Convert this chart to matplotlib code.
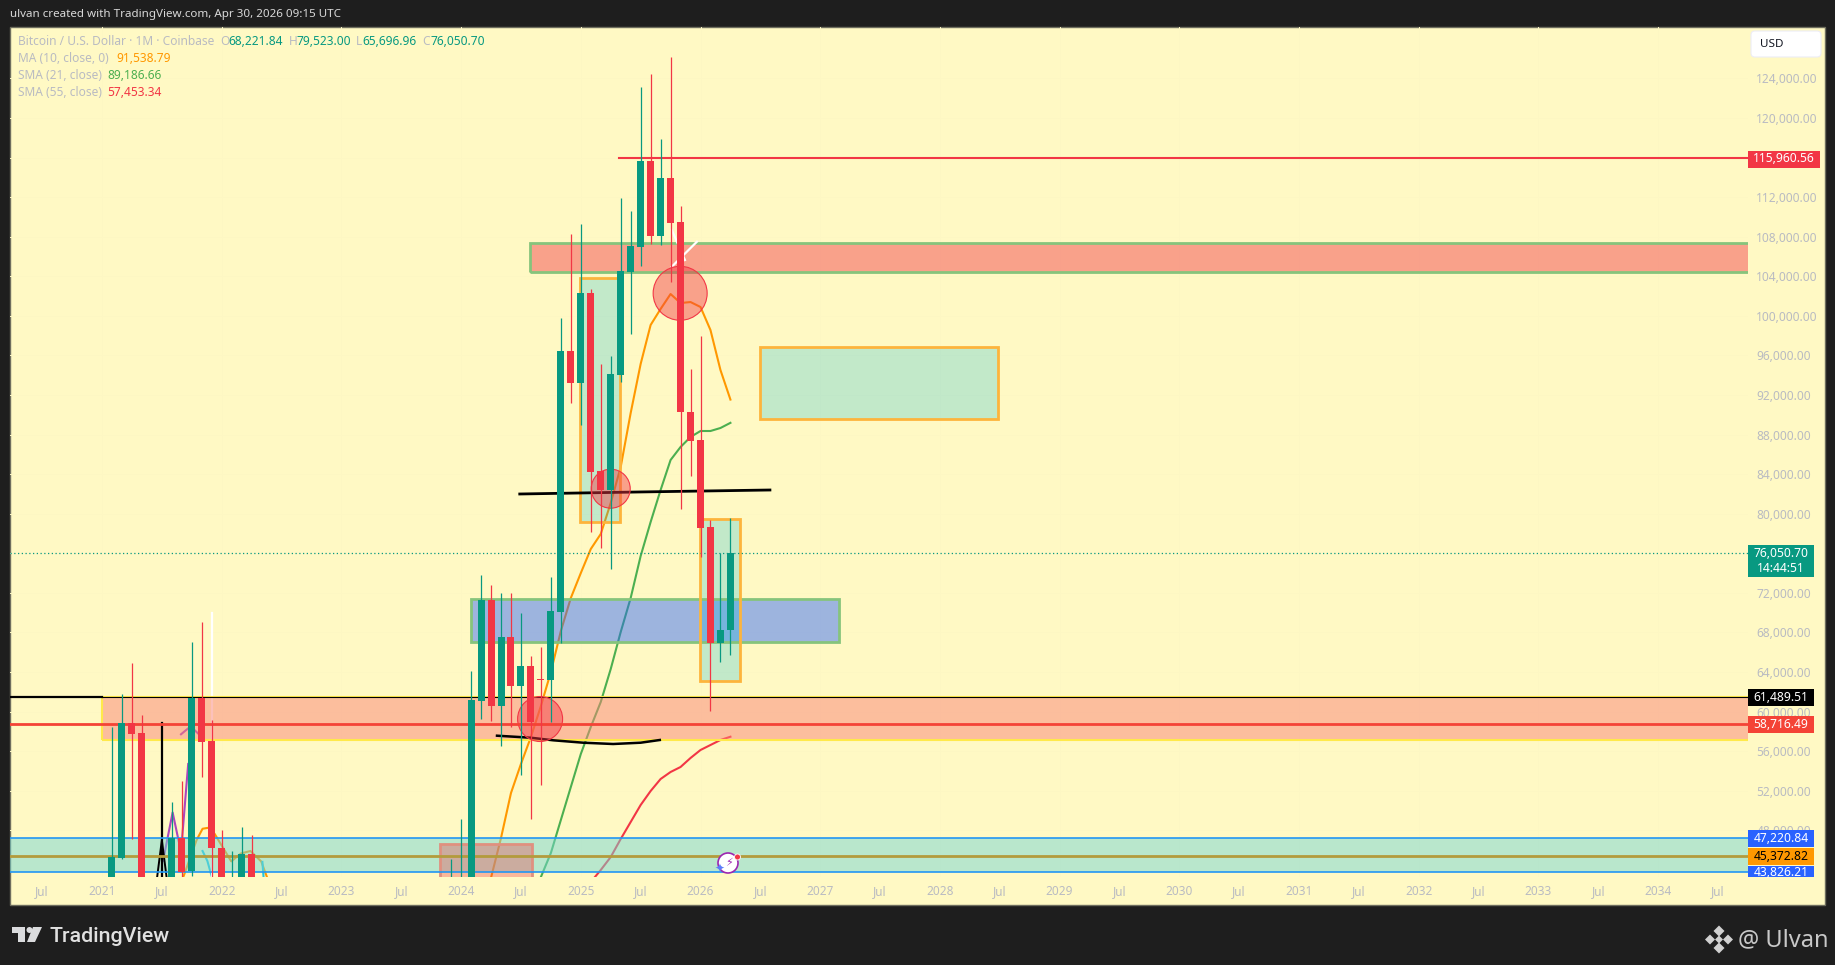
#imports
import matplotlib
matplotlib.use('Agg')
import matplotlib.pyplot as plt
from matplotlib.patches import Rectangle, Polygon, Circle, FancyBboxPatch

# candles, month by month (the months left out sit under the visible range)
months = ['2021-02', '2021-03', '2021-04', '2021-05', '2021-06', '2021-07', '2021-08', '2021-09',
          '2021-10', '2021-11', '2021-12', '2022-01', '2022-02', '2022-03', '2022-04',
          '2023-12', '2024-01', '2024-02', '2024-03', '2024-04', '2024-05', '2024-06', '2024-07',
          '2024-08', '2024-09', '2024-10', '2024-11', '2024-12', '2025-01', '2025-02', '2025-03',
          '2025-04', '2025-05', '2025-06', '2025-07', '2025-08', '2025-09', '2025-10', '2025-11',
          '2025-12', '2026-01', '2026-02', '2026-03', '2026-04']
opens = [40000, 45223, 58811, 57830, 37000, 35500, 41500, 47245, 43878, 61399, 57021, 46234, 38000, 42500, 45597,
         37000, 42200, 42600, 61096, 71276, 60560, 67536, 62582, 64604, 63289, 63188, 70093, 96450, 93245,
         102344, 84318, 82397, 94054, 104467, 106995, 115659, 108107, 113941, 109492, 90283, 87452, 78657,
         66959, 68221.84]
highs = [58437, 61773, 64907, 59650, 41000, 42000, 50884, 52977, 67030, 69052, 59144, 48023, 45900, 48327, 47518,
         45091, 49135, 64098, 73804, 72793, 71984, 71984, 69962, 65615, 66525, 73602, 99787, 108279, 109290,
         102718, 95136, 95945, 111919, 110574, 123141, 124455, 117883, 126174, 111110, 94630, 97967, 79364,
         76028, 79523.00]
lows = [38000, 45091, 47144, 32000, 30000, 29000, 39000, 42500, 43373, 53412, 42000, 35000, 37000, 39000, 37000,
        36000, 38500, 42000, 59276, 59073, 56546, 58467, 53614, 49166, 52603, 58972, 66929, 91223, 88969,
        78151, 76534, 74410, 93346, 98199, 105044, 107268, 107167, 103456, 80476, 83813, 75654, 60085,
        65038, 65696.96]
closes = [45294, 58811, 57729, 37000, 35500, 41500, 47245, 43807, 61399, 56920, 46234, 38000, 42500, 45597, 37800,
          42200, 42600, 61166, 71276, 60560, 67536, 62582, 64604, 58972, 63188, 70164, 96450, 93245, 102314,
          84217, 82397, 94125, 104538, 107066, 115659, 108107, 113941, 109421, 90313, 87382, 78586, 66959,
          68243, 76050.70]

# moving averages
ma10_months = ['2024-03', '2024-04', '2024-05', '2024-06', '2024-07', '2024-08', '2024-09', '2024-10', '2024-11',
               '2024-12', '2025-01', '2025-02', '2025-03', '2025-04', '2025-05', '2025-06', '2025-07', '2025-08',
               '2025-09', '2025-10', '2025-11', '2025-12', '2026-01', '2026-02', '2026-03', '2026-04']
ma10 = [41000, 43200, 47212, 51762, 54700, 57430, 60560, 64000, 68140, 71480, 74000, 76430, 77950, 81080, 84720,
        90180, 95140, 99080, 100700, 102210, 101300, 101400, 100900, 98570, 94530, 91538.79]
sma21_months = ['2024-09', '2024-10', '2024-11', '2024-12', '2025-01', '2025-02', '2025-03', '2025-04', '2025-05',
                '2025-06', '2025-07', '2025-08', '2025-09', '2025-10', '2025-11', '2025-12', '2026-01', '2026-02',
                '2026-03', '2026-04']
sma21 = [43272, 45698, 49034, 52371, 55707, 58437, 60964, 64300, 68041, 71479, 75725, 79162, 82397, 85430, 86745,
         87756, 88362, 88362, 88666, 89186.66]
sma55_months = ['2025-02', '2025-03', '2025-04', '2025-05', '2025-06', '2025-07', '2025-08', '2025-09', '2025-10',
                '2025-11', '2025-12', '2026-01', '2026-02', '2026-03', '2026-04']
sma55 = [42766, 43979, 45294, 47113, 48832, 50551, 51966, 53179, 53887, 54393, 55303, 56111, 56617, 57122, 57453.34]

# old moving average pieces around 2021/22 (fractional years, prices)
old_ma_x = [2021.68, 2021.79, 2021.84, 2021.89, 2021.94, 2022.08, 2022.16, 2022.24, 2022.33, 2022.38]
old_ma_y = [43300, 47000, 48150, 48250, 47650, 44850, 45650, 45900, 44850, 43200]
purple_x = [2021.51, 2021.59, 2021.66, 2021.72]
purple_y = [44900, 49800, 45800, 54700]
purple2_x = [2021.66, 2021.74, 2021.81]
purple2_y = [57700, 58500, 57700]
cyan_x = [2021.84, 2021.88, 2021.92]
cyan_y = [45900, 44900, 43200]
cyan2_x = [2022.34, 2022.35]
cyan2_y = [44800, 43200]

# horizontal levels
level_red_top = 115960.56
level_black = 61489.51
level_red = 58716.49
level_blue_top = 47220.84
level_olive = 45372.82
level_blue_bottom = 43826.21
last_price = 76050.70

# drawn boxes: left year, right year, low price, high price
box_salmon = (2024.576, 2036, 104437, 107339)
box_teal_big = (2026.497, 2028.486, 89575, 96824)
box_teal_mid = (2024.993, 2025.328, 79162, 103861)
box_teal_last = (2025.996, 2026.33, 63118, 79496)
box_blue = (2024.08, 2027.157, 67000, 71408)
box_pink = (2021.003, 2036, 57092, level_black)
box_brown = (2023.824, 2024.59, 40000, 46638)

# circles: year, price, diameter in px
circles_x = [2025.83, 2025.25, 2024.66]
circles_y = [102284, 82530, 59245]
circles_d = [54, 39, 45]

# hand drawn lines
trend_x = [2024.49, 2025.5, 2026.58]
trend_y = [81993, 82200, 82397]
curve_x = [2024.30, 2024.58, 2024.77, 2025.02, 2025.27, 2025.50, 2025.66]
curve_y = [57557, 57355, 57092, 56849, 56718, 56849, 57123]
white_x = [2025.76, 2025.87]
white_y = [108683, 105650]
white2_x = [2025.76, 2025.97]
white2_y = [104970, 107500]

price_ticks = list(range(48000, 128000, 4000))
year_ticks = list(range(2021, 2035))
jul_ticks = [y - 0.5 for y in range(2021, 2036)]

# colors
BG = '#1E1E1E'
CREAM = '#FFF9C4'
UP = '#089981'
DOWN = '#F23645'
GREY = '#B9BBC2'
TEAL = '#00B7D9'

W, H = 1835, 965
L, R, T, B = 10, 1748, 27, 877


def year_of(month):
    y, m = month.split('-')
    return int(y) + (int(m) - 1) / 12


fig = plt.figure(figsize=(W / 100, H / 100), dpi=100, facecolor=BG)
plt.rcParams['font.family'] = ['Noto Sans', 'DejaVu Sans']

# px canvas under the chart
back = fig.add_axes([0, 0, 1, 1], zorder=0)
back.set_xlim(0, W)
back.set_ylim(H, 0)
back.axis('off')
back.add_patch(Rectangle((10, T), 1815, 878, facecolor=CREAM, edgecolor='#6E6E5E', lw=1))

ax = fig.add_axes([L / W, 1 - B / H, (R - L) / W, (B - T) / H], zorder=1)
ax.patch.set_alpha(0)
ax.set_xlim(2021 + (L - 102) / 119.7, 2021 + (R - 102) / 119.7)
ax.set_ylim(124000 - (B - 78.5) * 101.1, 124000 - (T - 78.5) * 101.1)
for s in ax.spines.values():
    s.set_visible(False)

ax.grid(True, color='#FDF7C3', lw=0.7, zorder=0)
ax.set_axisbelow(True)

# time axis and price axis
ax.set_xticks(jul_ticks, ['Jul'] * len(jul_ticks), minor=True)
ax.set_xticks(year_ticks, [str(y) for y in year_ticks])
ax.tick_params(axis='x', which='both', length=0, colors=GREY, labelsize=8.5, pad=6)
for t in ax.get_xticklabels():
    t.set_fontweight('bold')
ax.yaxis.tick_right()
ax.set_yticks(price_ticks, [f'{p:,.2f}' for p in price_ticks])
ax.tick_params(axis='y', length=0, colors=GREY, labelsize=8.6, pad=6)

# moving averages sit under the boxes, they tint through them
ax.plot([year_of(m) for m in ma10_months], ma10, color='#FF9800', lw=1.5, zorder=2)
ax.plot([year_of(m) for m in sma21_months], sma21, color='#4CAF50', lw=1.5, zorder=2)
ax.plot([year_of(m) for m in sma55_months], sma55, color=DOWN, lw=1.5, zorder=2)
ax.plot(old_ma_x, old_ma_y, color='#FF9800', lw=1.5, zorder=2)
ax.plot(purple_x, purple_y, color='#AB47BC', lw=1.5, zorder=2)
ax.plot(purple2_x, purple2_y, color='#AB47BC', lw=1.5, zorder=2)
ax.plot(cyan_x, cyan_y, color='#26C6DA', lw=1.5, zorder=2)
ax.plot(cyan2_x, cyan2_y, color='#26C6DA', lw=1.5, zorder=2)


def box(spec, face, alpha, edge, lw=1.5, z=3):
    x0, x1, y0, y1 = spec
    ax.add_patch(Rectangle((x0, y0), x1 - x0, y1 - y0, facecolor=face, alpha=alpha, edgecolor='none', zorder=z))
    ax.add_patch(Rectangle((x0, y0), x1 - x0, y1 - y0, facecolor='none', edgecolor=edge, lw=lw, zorder=z + 0.1))


# teal band at the bottom
ax.add_patch(Rectangle((2020, level_blue_bottom), 17, level_blue_top - level_blue_bottom,
                       facecolor='#75D7D4', alpha=0.5, edgecolor='none', zorder=3))
box(box_brown, DOWN, 0.33, '#E0907F', lw=2)
box(box_pink, '#FB8578', 0.5, '#FFE94A', lw=1.5)
box(box_blue, '#2962FF', 0.455, '#86C47C', lw=2)
box(box_salmon, DOWN, 0.45, '#86C47C', lw=2)
box(box_teal_big, TEAL, 0.24, '#FDB43C', lw=2)
box(box_teal_mid, TEAL, 0.24, '#FDB43C', lw=2)
box(box_teal_last, TEAL, 0.24, '#FDB43C', lw=2)

# black hand drawn lines
ax.plot(trend_x, trend_y, color='black', lw=2, zorder=3.5)
ax.plot(curve_x, curve_y, color='black', lw=1.8, zorder=3.5)
ax.plot(white_x, white_y, color='white', lw=1.6, zorder=3.5)
ax.plot(white2_x, white2_y, color='white', lw=1.6, zorder=3.5)
ax.plot([2020, 2021.0], [level_black, level_black], color='black', lw=1.6, zorder=3.5)
ax.plot([2021, 2037], [level_black, level_black], color='black', lw=0.8, zorder=3.5)
ax.plot([2021.5, 2021.5], [40000, 58800], color='black', lw=1.6, zorder=3.5)
ax.plot([2021.46, 2021.5, 2021.54], [43200, 47000, 43200], color='black', lw=1.4, zorder=3.5)
ax.plot([2021.92, 2021.92], [40000, 70000], color='white', lw=1.6, zorder=2)

# circles
ax.scatter(circles_x, circles_y, s=[(d * 0.72) ** 2 for d in circles_d], facecolor=(0.95, 0.21, 0.27, 0.45),
           edgecolor=DOWN, linewidth=0.8, zorder=4)

# levels
ax.plot([2025.32, 2037], [level_red_top, level_red_top], color=DOWN, lw=1.5, zorder=5)
ax.axhline(level_red, color='#F44336', lw=2, zorder=5)
ax.axhline(level_blue_top, color='#2196F3', lw=1.2, zorder=5)
ax.axhline(level_blue_bottom, color='#2196F3', lw=1.2, zorder=5)
ax.axhline(level_olive, color='#B39B3C', lw=2, zorder=5)
ax.axhline(last_price, color=UP, lw=0.9, ls=(0, (1, 2)), zorder=5)

# candles
xs = [year_of(m) for m in months]
cols = [UP if c >= o else DOWN for o, c in zip(opens, closes)]
ax.vlines(xs, lows, highs, colors=cols, lw=0.9, zorder=6)
ax.bar(xs, [abs(c - o) for o, c in zip(opens, closes)], bottom=[min(o, c) for o, c in zip(opens, closes)],
       width=7 / 119.7, color=cols, zorder=6.1)

# px canvas above the chart
top = fig.add_axes([0, 0, 1, 1], zorder=2)
top.patch.set_alpha(0)
top.set_xlim(0, W)
top.set_ylim(H, 0)
top.axis('off')


def tag(text, y, face, color='white', h=17, w=66):
    top.add_patch(Rectangle((1748, y - h / 2), w, h, facecolor=face, edgecolor='none'))
    top.text(1748 + w / 2, y, text, color=color, fontsize=8.7, ha='center', va='center')


tag(f'{level_red_top:,.2f}', 159, DOWN, w=72)
tag(f'{level_black:,.2f}', 697.5, 'black')
tag(f'{level_red:,.2f}', 724.5, '#F44336')
tag(f'{level_blue_top:,.2f}', 838, '#2962FF')
tag(f'{level_olive:,.2f}', 856.5, '#FF9800', color='black')
top.add_patch(Rectangle((1748, 545), 66, 32, facecolor=UP, edgecolor='none'))
top.text(1781, 553.5, f'{last_price:,.2f}', color='white', fontsize=8.7, ha='center', va='center')
top.text(1781, 569, '14:44:51', color='white', fontsize=8.7, ha='center', va='center')
# the last tag is cut by the end of the price pane
top.add_patch(Rectangle((1748, 866), 66, 11, facecolor='#2962FF', edgecolor='none'))
cut = top.text(1781, 872.5, f'{level_blue_bottom:,.2f}', color='white', fontsize=8.7, ha='center', va='center')
cut.set_clip_path(Rectangle((1748, 866), 66, 11, transform=top.transData))

# USD button
top.add_patch(FancyBboxPatch((1753, 33), 66, 22, boxstyle='round,pad=2,rounding_size=4', facecolor='white',
                             edgecolor='#EDEDF5', lw=0.8))
top.text(1760, 44.5, 'USD', color='#131722', fontsize=8.4, ha='left', va='center')

# header and legend
top.text(10, 15, 'ulvan created with TradingView.com, Apr 30, 2026 09:15 UTC', color='#D8D8D8', fontsize=8.35,
         ha='left', va='center')
top.text(18, 41.5, 'Bitcoin / U.S. Dollar · 1M · Coinbase', color=GREY, fontsize=8.6, ha='left', va='center')
for lx, lab, vx, val in [(220, 'O', 228.5, opens[-1]), (288.5, 'H', 296, highs[-1]), (356, 'L', 362.5, lows[-1]),
                         (422.5, 'C', 430, closes[-1])]:
    top.text(lx, 41.5, lab, color=GREY, fontsize=8.6, ha='left', va='center')
    top.text(vx, 41.5, f'{val:,.2f}', color=UP, fontsize=8.6, ha='left', va='center')
for y, lab, vx, val, col in [(58.5, 'MA (10, close, 0)', 116, 91538.79, '#FF9800'),
                             (75.5, 'SMA (21, close)', 107, 89186.66, '#4CAF50'),
                             (92.5, 'SMA (55, close)', 107, 57453.34, DOWN)]:
    top.text(18, y, lab, color=GREY, fontsize=8.6, ha='left', va='center')
    top.text(vx, y, f'{val:,.2f}', color=col, fontsize=8.6, ha='left', va='center')

# lightning badge
top.add_patch(Circle((728, 863), 10, facecolor='white', edgecolor='#9C27B0', lw=1.2))
top.text(729, 863, '\u26a1', color='#9C27B0', fontsize=8, ha='center', va='center', family='DejaVu Sans')
top.add_patch(Circle((737.5, 857), 3, facecolor=DOWN, edgecolor='white', lw=0.6))
top.text(719.5, 868, '\u2726', color='#5C7CFA', fontsize=8.5, ha='center', va='center', family='DejaVu Sans')

# TradingView logo
LOGO = '#DADBDD'
top.add_patch(Polygon([(12, 927), (25, 927), (25, 942), (18, 942), (18, 933), (12, 933)], facecolor=LOGO))
top.add_patch(Circle((29.5, 930), 3, facecolor=LOGO))
top.add_patch(Polygon([(33, 927), (42, 927), (35, 942), (27, 942)], facecolor=LOGO))
top.text(49, 937, 'TradingView', color='#E0E0E0', fontsize=15.4, ha='left', va='center', family='Roboto',
         fontweight='medium')

# Binance mark and signature
for cx, cy, r in [(1719, 931, 5.5), (1719, 948, 5.5), (1710, 939.5, 5), (1728, 939.5, 5), (1719, 939.5, 4)]:
    top.add_patch(Polygon([(cx - r, cy), (cx, cy - r), (cx + r, cy), (cx, cy + r)], facecolor='#D0D0D0'))
top.text(1738, 940, '@ Ulvan', color='#C8C8C8', fontsize=17, ha='left', va='center', family='Noto Sans')

fig.savefig('out.png', dpi=100, facecolor=BG)
